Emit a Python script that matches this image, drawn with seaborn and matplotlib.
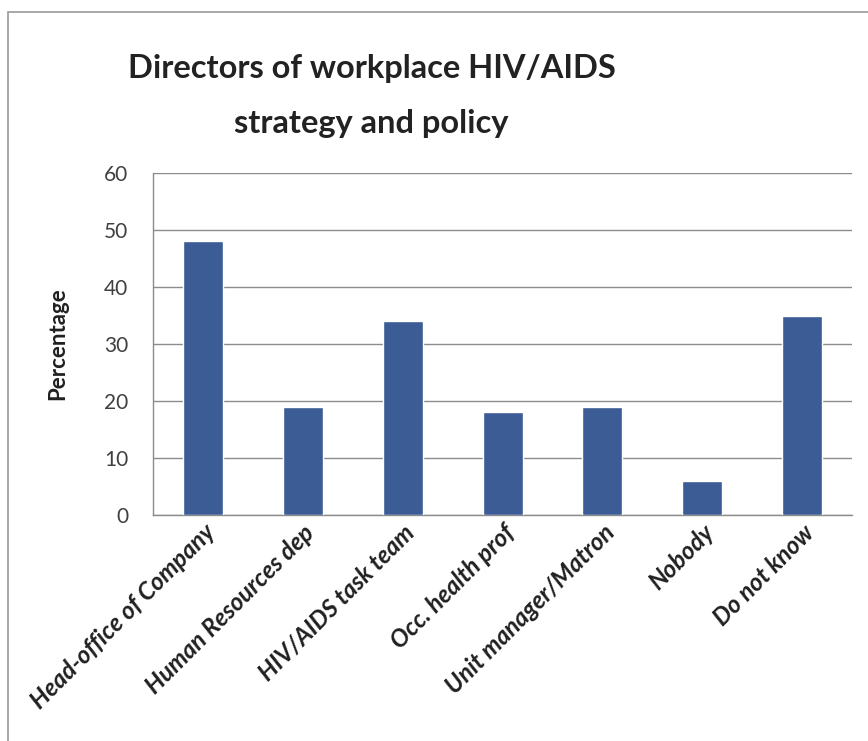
import matplotlib
matplotlib.use("Agg")
import matplotlib.pyplot as plt
import seaborn as sns
import pandas as pd
from matplotlib.patches import Rectangle

categories = ["Head-office of Company", "Human Resources dep", "HIV/AIDS task team",
              "Occ. health prof", "Unit manager/Matron", "Nobody", "Do not know"]
percentages = [48, 19, 34, 18, 19, 6, 35]
y_ticks = [0, 10, 20, 30, 40, 50, 60]

df = pd.DataFrame({"Director": categories, "Percentage": percentages})

sns.set_theme(style="white")
plt.rcParams["font.family"] = ["Lato", "DejaVu Sans"]

fig = plt.figure(figsize=(8.68, 7.41), dpi=100)
fig.patch.set_facecolor("white")
ax = fig.add_axes([0.1763, 0.305, 0.8053, 0.4615])

sns.barplot(data=df, x="Director", y="Percentage", color="#3B5C95",
            width=0.4, saturation=1, ax=ax, zorder=3)

ax.set_ylim(0, 60)
ax.set_yticks(y_ticks)
ax.set_yticklabels([str(t) for t in y_ticks], fontsize=15, color="#404040")
ax.yaxis.grid(True, color="#8c8c8c", linewidth=1, zorder=0)
ax.set_axisbelow(True)
ax.tick_params(axis="y", length=0, pad=18)
ax.tick_params(axis="x", length=0, pad=4)

for side in ["top", "right"]:
    ax.spines[side].set_visible(False)
for side in ["left", "bottom"]:
    ax.spines[side].set_color("#8c8c8c")
    ax.spines[side].set_linewidth(1)

ax.set_xlabel("")
ax.set_ylabel("Percentage", fontsize=16, fontweight="bold", color="#202020")
ax.yaxis.set_label_coords(-0.121, 0.5)
ax.set_xticks(range(len(categories)))
ax.set_xticklabels(categories, rotation=45, ha="right", rotation_mode="anchor",
                   fontsize=17.5, fontweight="bold", fontstyle="italic", color="#202020")

fig.text(0.428, 0.907, "Directors of workplace HIV/AIDS", ha="center", va="center",
         fontsize=23.5, fontweight="bold", color="#222222")
fig.text(0.428, 0.834, "strategy and policy", ha="center", va="center",
         fontsize=23.5, fontweight="bold", color="#222222")

# outer chart frame
fig.patches.append(Rectangle((0.009, -0.01), 1.05, 0.994, transform=fig.transFigure,
                             fill=False, edgecolor="#9a9a9a", linewidth=1.2))

fig.savefig("out.png", dpi=100)
